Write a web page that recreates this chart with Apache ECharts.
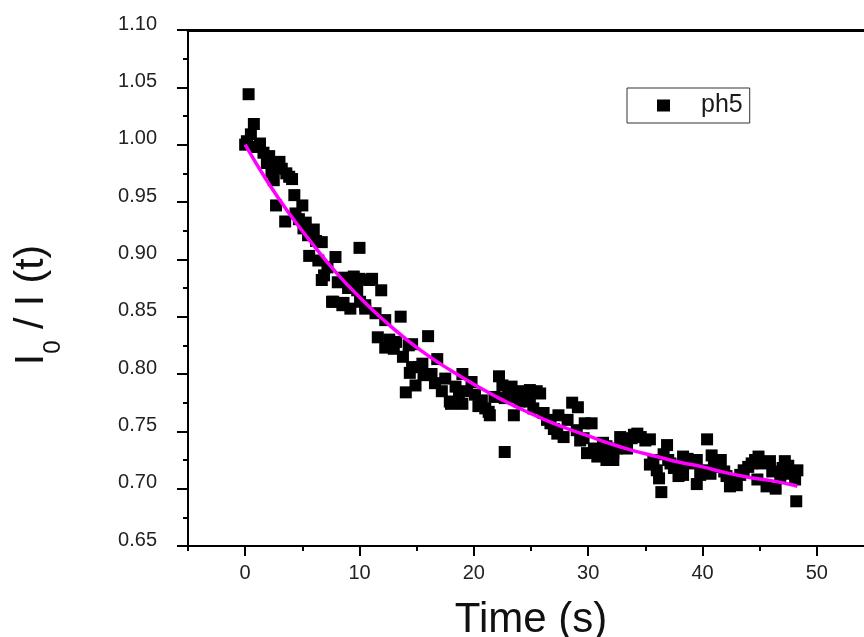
<!DOCTYPE html>
<html>
<head>
<meta charset="utf-8">
<script src="https://cdn.jsdelivr.net/npm/echarts@6/dist/echarts.min.js"></script>
<style>
html,body{margin:0;padding:0;background:#fff;}
#chart{width:864px;height:637px;}
</style>
</head>
<body>
<div id="chart"></div>
<script>
// Scatter data: time (s) and I0/I(t)
const timeS = [
0.00,0.15,0.30,0.50,0.76,1.00,1.30,1.60,1.90,2.10,2.30,2.50,2.70,2.77,3.00,3.20,3.50,3.60,3.85,4.10,
4.30,4.40,4.70,5.00,5.10,5.30,5.50,5.60,5.80,6.00,6.20,6.40,6.70,6.70,6.90,7.20,7.60,7.70,7.90,8.10,
8.50,8.60,8.60,8.80,9.00,9.20,9.45,9.50,9.80,10.00,10.00,10.05,10.50,10.50,10.85,11.10,11.40,11.60,11.90,12.25,
12.25,12.60,13.00,13.20,13.60,13.80,14.05,14.30,14.40,14.60,14.60,14.90,15.20,15.50,15.60,16.00,16.30,16.60,16.80,17.20,
17.50,17.90,18.00,18.40,18.70,19.00,19.00,19.40,19.80,20.10,20.40,20.70,21.00,21.30,21.40,21.80,22.20,22.50,22.70,22.70,
23.00,23.30,23.50,23.70,24.00,24.30,24.60,24.90,24.90,25.20,25.50,25.80,26.10,26.40,26.70,27.00,27.30,27.40,27.85,28.20,
28.60,29.00,29.10,29.30,29.60,29.70,29.90,30.30,30.50,30.80,31.10,31.30,31.60,31.60,31.90,32.20,32.20,32.50,32.80,33.00,
33.40,33.80,34.00,34.30,34.60,35.00,35.40,35.40,35.70,36.00,36.20,36.40,36.60,36.90,37.00,37.20,37.50,37.90,38.10,38.30,
38.30,38.70,39.10,39.50,39.50,39.80,40.00,40.40,40.70,40.80,41.00,41.30,41.60,41.90,42.10,42.40,42.70,43.00,43.30,43.60,
44.00,44.30,44.60,44.80,44.90,45.20,45.60,45.90,46.10,46.40,46.80,47.00,47.20,47.50,47.80,48.10,48.20,48.30
];
const ratio = [
1.000,1.003,1.044,1.009,1.018,0.998,1.001,0.993,0.984,0.990,0.976,0.969,0.947,0.982,0.985,0.979,0.933,0.975,0.972,0.970,
0.956,0.940,0.935,0.947,0.927,0.932,0.921,0.903,0.924,0.926,0.916,0.899,0.915,0.882,0.886,0.893,0.863,0.863,0.902,0.880,
0.860,0.884,0.862,0.883,0.875,0.857,0.879,0.885,0.873,0.910,0.883,0.863,0.857,0.860,0.882,0.883,0.853,0.832,0.873,0.847,
0.823,0.830,0.822,0.828,0.850,0.815,0.784,0.825,0.801,0.806,0.826,0.790,0.806,0.809,0.799,0.833,0.800,0.792,0.813,0.785,
0.796,0.776,0.774,0.789,0.780,0.800,0.774,0.785,0.793,0.782,0.772,0.777,0.770,0.767,0.764,0.780,0.798,0.790,0.779,0.732,
0.788,0.789,0.764,0.780,0.776,0.785,0.780,0.786,0.776,0.770,0.785,0.783,0.766,0.760,0.757,0.752,0.748,0.764,0.745,0.760,
0.775,0.751,0.771,0.742,0.744,0.757,0.731,0.757,0.735,0.728,0.733,0.740,0.737,0.725,0.728,0.731,0.725,0.735,0.745,0.743,
0.735,0.744,0.747,0.748,0.745,0.742,0.743,0.721,0.725,0.716,0.709,0.697,0.730,0.738,0.725,0.722,0.718,0.711,0.720,0.728,
0.712,0.726,0.722,0.725,0.704,0.712,0.716,0.743,0.713,0.729,0.722,0.719,0.725,0.715,0.711,0.702,0.708,0.703,0.712,0.716,
0.719,0.722,0.725,0.708,0.728,0.722,0.702,0.724,0.715,0.700,0.711,0.718,0.724,0.720,0.713,0.708,0.689,0.716
];
// Fitted decay curve
const fitTime  = [0,2,4,6,8,10,12,14,16,18,20,22,24,26,28,30,32,34,36,38,40,42,44,46,48,48.3];
const fitValue = [1.000,0.967,0.938,0.912,0.888,0.867,0.848,0.831,0.816,0.803,0.791,0.780,0.770,0.761,0.753,0.746,0.739,0.733,0.728,0.723,0.719,0.714,0.710,0.707,0.703,0.702];
// Tick values
const xMajorTicks = [0,10,20,30,40,50];
const xMinorTicks = [-5,5,15,25,35,45,55];

const FONT = "'Liberation Sans', Arial, sans-serif";
const chart = echarts.init(document.getElementById('chart'), null, {renderer:'canvas'});

const scatterData = timeS.map((t,i)=>[t, ratio[i]]);
const fitData = fitTime.map((t,i)=>[t, fitValue[i]]);

chart.setOption({
  animation:false,
  backgroundColor:'#fff',
  textStyle:{fontFamily:FONT},
  grid:{left:188, top:30, width:686, height:516, containLabel:false, outerBoundsMode:'none'},
  legend:{
    data:[{name:'ph5', icon:'rect', itemStyle:{color:'#000', opacity:1}}],
    left:627, top:88,
    padding:[5,7,5,30],
    borderColor:'#333', borderWidth:1,
    itemWidth:13, itemHeight:12,
    textStyle:{fontSize:25, color:'#1a1a1a', fontFamily:FONT, padding:[0,0,0,26]}
  },
  xAxis:[
    {
      type:'value', min:-5, max:55, position:'bottom',
      name:'Time (s)', nameLocation:'middle', nameGap:53,
      nameTextStyle:{fontSize:42, color:'#111', fontFamily:FONT},
      axisLine:{show:true, onZero:false, lineStyle:{color:'#000', width:2}},
      axisTick:{show:true, customValues:xMajorTicks, length:10, lineStyle:{color:'#000', width:2}},
      axisLabel:{show:true, customValues:xMajorTicks, fontSize:20, color:'#222', margin:17, fontFamily:FONT},
      splitLine:{show:false}
    },
    {
      type:'value', min:-5, max:55, position:'bottom', gridIndex:0,
      axisLine:{show:false, onZero:false},
      axisTick:{show:true, customValues:xMinorTicks, length:5, lineStyle:{color:'#000', width:2}},
      axisLabel:{show:false},
      splitLine:{show:false}
    },
    {
      type:'value', min:-5, max:55, position:'top', gridIndex:0,
      axisLine:{show:true, onZero:false, lineStyle:{color:'#000', width:3}},
      axisTick:{show:false},
      axisLabel:{show:false},
      splitLine:{show:false}
    }
  ],
  yAxis:{
    type:'value', min:0.65, max:1.10, interval:0.05,
    name:'{m|I}{s|0}{m| / I (t)}', nameLocation:'middle', nameGap:136,
    nameTextStyle:{
      color:'#111', fontFamily:FONT, padding:[0,34,0,0],
      rich:{
        m:{fontSize:41, lineHeight:41, verticalAlign:'top', color:'#111', fontFamily:FONT},
        s:{fontSize:24, lineHeight:24, verticalAlign:'top', padding:[30,0,0,0], color:'#111', fontFamily:FONT}
      }
    },
    axisLine:{show:true, onZero:false, lineStyle:{color:'#000', width:2}},
    axisTick:{show:true, length:11, lineStyle:{color:'#000', width:2}},
    minorTick:{show:true, splitNumber:2, length:5, lineStyle:{color:'#000', width:2}},
    axisLabel:{fontSize:20, lineHeight:12, verticalAlign:'bottom', color:'#222', margin:31, fontFamily:FONT,
      formatter:(v)=>v.toFixed(2)},
    splitLine:{show:false},
    minorSplitLine:{show:false}
  },
  series:[
    {
      name:'ph5', type:'scatter', xAxisIndex:0, data:scatterData,
      symbol:'rect', symbolSize:12,
      itemStyle:{color:'#000', opacity:1}, z:2
    },
    {
      name:'fit', type:'line', xAxisIndex:0, data:fitData,
      smooth:true, showSymbol:false, symbol:'none',
      lineStyle:{color:'#ff00ff', width:3.5},
      z:3
    }
  ]
});
</script>
</body>
</html>
